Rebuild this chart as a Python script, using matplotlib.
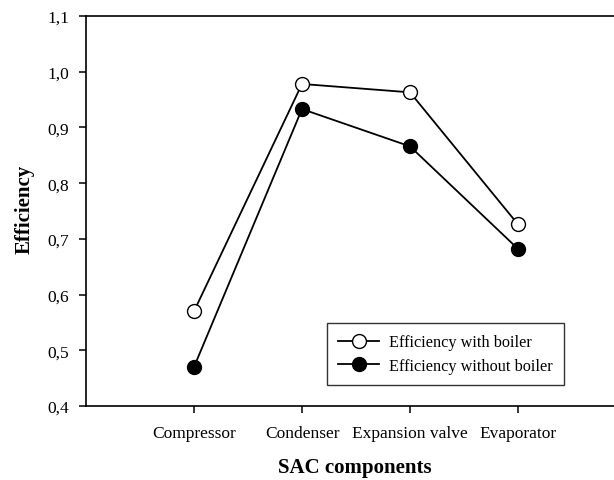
import numpy as np
import matplotlib.pyplot as plt
from matplotlib.ticker import FuncFormatter

plt.rcParams['font.family'] = ['Liberation Serif', 'DejaVu Serif']

components = ["Compressor", "Condenser", "Expansion valve", "Evaporator"]
with_boiler = [0.570, 0.978, 0.963, 0.726]
without_boiler = [0.470, 0.933, 0.866, 0.682]

W, H = 614, 481
fig = plt.figure(figsize=(W / 100, H / 100), dpi=100)
# axes runs a bit past the right edge, as in the original (no right spine visible)
ax = fig.add_axes([86 / W, (H - 407) / H, 540 / W, 390 / H])

x = np.arange(1, len(components) + 1)
ax.plot(x, with_boiler, color='black', lw=1.3, marker='o', ms=10,
        mfc='white', mec='black', mew=1.0, label='Efficiency with boiler', zorder=3)
ax.plot(x, without_boiler, color='black', lw=1.3, marker='o', ms=10,
        mfc='black', mec='black', mew=1.0, label='Efficiency without boiler', zorder=3)

ax.set_xlim(0, 5)
ax.set_ylim(0.4, 1.1)
ax.set_xticks(x)
ax.set_xticklabels(components)
ax.set_yticks(np.arange(0.4, 1.11, 0.1))
ax.yaxis.set_major_formatter(FuncFormatter(lambda v, p: f"{v:.1f}".replace('.', ',')))

for s in ['left', 'top', 'bottom']:
    ax.spines[s].set_linewidth(1.2)
ax.spines['right'].set_visible(False)
ax.tick_params(axis='y', direction='out', length=5, width=1.1, pad=7, labelsize=12.5)
ax.tick_params(axis='x', direction='out', length=5, width=1.1, pad=9, labelsize=12.5)

fig.text(355 / W, (H - 468) / H, 'SAC components', ha='center', va='center',
         fontsize=15, fontweight='bold')
fig.text(25 / W, (H - 209) / H, 'Efficiency', ha='center', va='center',
         rotation=90, fontsize=15, fontweight='bold')

leg = ax.legend(loc='lower left', bbox_to_anchor=(0.446, 0.054), borderaxespad=0,
                fontsize=11.7, frameon=True, fancybox=False, edgecolor='black',
                handlelength=2.5, handletextpad=0.6, borderpad=0.7, labelspacing=0.45)
leg.get_frame().set_linewidth(1.0)

fig.savefig('out.png', dpi=100)
